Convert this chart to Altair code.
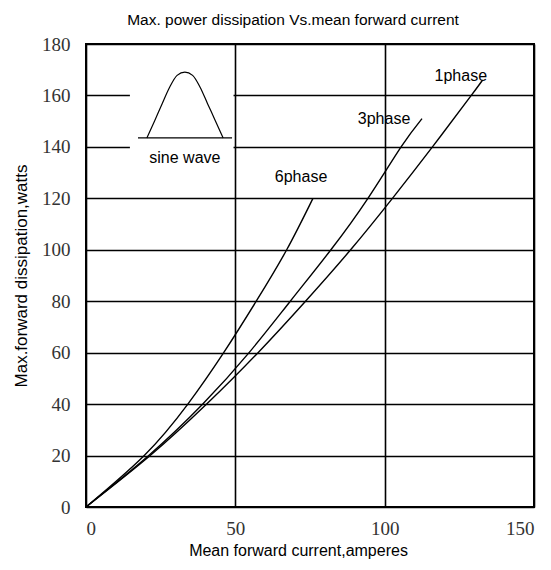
import altair as alt
import pandas as pd

# ---- data ----
phase6_x = [0, 19.5, 34.1, 46.1, 57.0, 67.2, 76.0]
phase6_y = [0, 20, 40, 60, 80, 100, 120]
phase3_x = [0, 21.0, 39.1, 54.6, 68.4, 82.0, 94.4, 105.5, 112.5]
phase3_y = [0, 20, 40, 60, 80, 100, 120, 140, 151]
phase1_x = [0, 21.5, 40.4, 57.6, 73.5, 88.6, 102.6, 116.0, 129.0, 132.8]
phase1_y = [0, 20, 40, 60, 80, 100, 120, 140, 160, 166]

label_text = ["1phase", "3phase", "6phase"]
label_x = [125.5, 99.8, 72.0]
label_y = [167.6, 150.9, 128.3]

# inset (sine wave sketch)
inset_box_x = [14.7, 49.4]
inset_box_y = [131, 178]
sine_x = [20.4, 23.0, 25.5, 28.0, 30.5, 33.1, 35.7, 38.2, 40.7, 43.3, 45.9]
sine_y = [143.5, 150.2, 156.8, 163.2, 167.8, 169.1, 167.8, 163.2, 156.8, 150.2, 143.5]
sine_base_x = [17.4, 48.9]
sine_base_y = 143.5
inset_label = "sine wave"
inset_label_xy = [33.1, 135.6]

x_ticks = [0, 50, 100, 150]
y_ticks = [0, 20, 40, 60, 80, 100, 120, 140, 160, 180]

# ---- tables ----
rows = []
for name, xs, ys in [("1phase", phase1_x, phase1_y), ("3phase", phase3_x, phase3_y), ("6phase", phase6_x, phase6_y)]:
    for i, (a, b) in enumerate(zip(xs, ys)):
        rows.append({"series": name, "x": a, "y": b, "i": i})
curves = pd.DataFrame(rows)
labels = pd.DataFrame({"t": label_text, "x": label_x, "y": label_y})
box = pd.DataFrame({"x": [inset_box_x[0]], "x2": [inset_box_x[1]], "y": [inset_box_y[0]], "y2": [inset_box_y[1]]})
sine = pd.DataFrame({"x": sine_x, "y": sine_y, "i": list(range(len(sine_x)))})
base_line = pd.DataFrame({"x": [sine_base_x[0]], "x2": [sine_base_x[1]], "y": [sine_base_y]})
inset_txt = pd.DataFrame({"t": [inset_label], "x": [inset_label_xy[0]], "y": [inset_label_xy[1]]})

xscale = alt.Scale(domain=[0, 150], nice=False, zero=False)
yscale = alt.Scale(domain=[0, 180], nice=False, zero=False)

xaxis = alt.Axis(values=x_ticks, grid=True, gridColor="black", gridWidth=1.6, gridOpacity=1,
                 domain=False, ticks=False, labelFont="Liberation Serif", labelFontSize=19,
                 labelColor="#333", labelPadding=12, title="Mean forward  current,amperes",
                 titleFont="Liberation Sans", titleFontSize=16, titleFontWeight="normal",
                 titleColor="black", titlePadding=4, titleX=212)
yaxis = alt.Axis(values=y_ticks, grid=True, gridColor="black", gridWidth=1.6, gridOpacity=1,
                 domain=False, ticks=False, labelFont="Liberation Serif", labelFontSize=19,
                 labelColor="#333", labelPadding=16, title="Max.forward  dissipation,watts",
                 titleFont="Liberation Sans", titleFontSize=17, titleFontWeight="normal",
                 titleColor="black", titleX=-56)

lines = alt.Chart(curves).mark_line(color="black", strokeWidth=1.4, interpolate="natural").encode(
    x=alt.X("x:Q", scale=xscale, axis=xaxis),
    y=alt.Y("y:Q", scale=yscale, axis=yaxis),
    detail="series:N",
    order="i:Q",
)

rect = alt.Chart(box).mark_rect(color="white", opacity=1).encode(
    x=alt.X("x:Q", scale=xscale), x2="x2:Q",
    y=alt.Y("y:Q", scale=yscale), y2="y2:Q",
)

sine_line = alt.Chart(sine).mark_line(color="black", strokeWidth=1.2, interpolate="monotone").encode(
    x=alt.X("x:Q", scale=xscale), y=alt.Y("y:Q", scale=yscale), order="i:Q"
)

base_rule = alt.Chart(base_line).mark_rule(color="black", strokeWidth=1.4).encode(
    x=alt.X("x:Q", scale=xscale), x2="x2:Q", y=alt.Y("y:Q", scale=yscale)
)

txt = alt.Chart(labels).mark_text(font="Liberation Sans", fontSize=16, color="black").encode(
    x=alt.X("x:Q", scale=xscale), y=alt.Y("y:Q", scale=yscale), text="t:N"
)

inset_text = alt.Chart(inset_txt).mark_text(font="Liberation Sans", fontSize=16, color="black").encode(
    x=alt.X("x:Q", scale=xscale), y=alt.Y("y:Q", scale=yscale), text="t:N"
)

chart = alt.layer(lines, rect, sine_line, base_rule, txt, inset_text).properties(
    width=448, height=463,
    padding={"left": 78, "top": 36, "right": 9, "bottom": 62},
    autosize=alt.AutoSizeParams(type="none"),
    title=alt.TitleParams("Max. power dissipation  Vs.mean  forward  current", font="Liberation Sans",
                          fontSize=15.5, fontWeight="normal", color="black", anchor="middle",
                          dx=-17, offset=7),
).configure_view(stroke="black", strokeWidth=2)

chart.save("out.html", embed_options={"renderer": "svg", "actions": False})
